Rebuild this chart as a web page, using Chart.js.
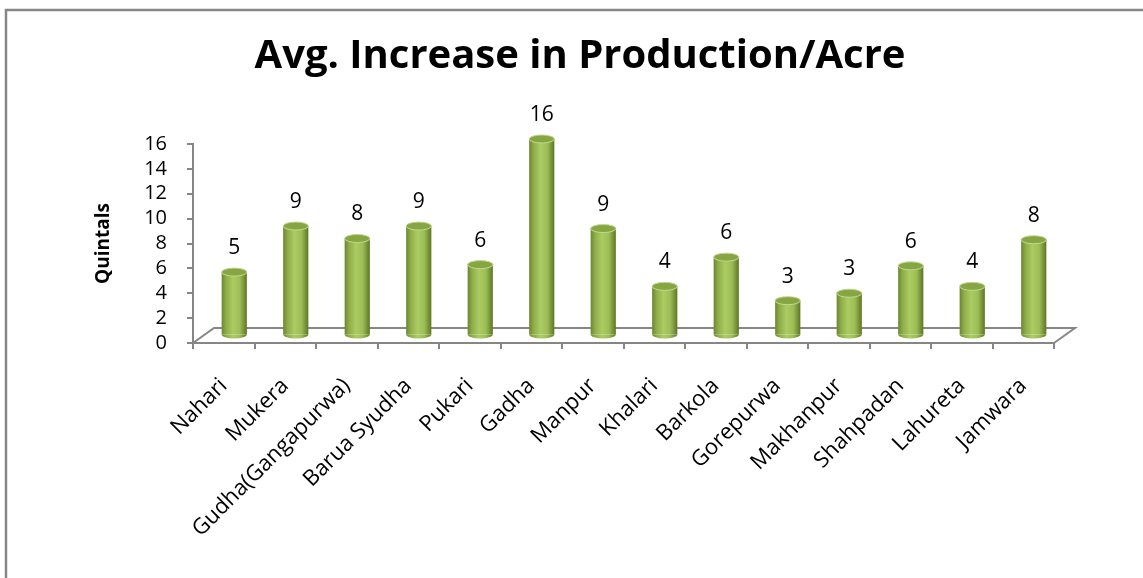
<!DOCTYPE html>
<html>
<head>
<meta charset="utf-8">
<script src="https://cdn.jsdelivr.net/npm/chart.js@4"></script>
<style>
  html, body { margin: 0; padding: 0; background: #fff; }
  #wrap { width: 1143px; height: 578px; }
</style>
</head>
<body>
<div id="wrap"><canvas id="chart" width="1143" height="578"></canvas></div>
<script>
// villages and average increase (quintals per acre)
const villages = ["Nahari", "Mukera", "Gudha(Gangapurwa)", "Barua Syudha", "Pukari", "Gadha", "Manpur",
  "Khalari", "Barkola", "Gorepurwa", "Makhanpur", "Shahpadan", "Lahureta", "Jamwara"];
const increase = [5.1, 8.8, 7.8, 8.8, 5.7, 15.8, 8.6, 3.95, 6.3, 2.8, 3.4, 5.6, 3.95, 7.7];
const yTicks = [0, 2, 4, 6, 8, 10, 12, 14, 16];

const AXIS = "#868686";
const FONT = "'Open Sans', 'Noto Sans', sans-serif";
// fake 3D depth of the floor (px)
const DEPTH_X = 21, DEPTH_Y = -15;

// cylinder shading across one bar
function cylinderFill(ctx) {
  const chart = ctx.chart;
  const xs = chart.scales && chart.scales.x;
  if (!xs || ctx.dataIndex == null) return "#9bbb59";
  const cx = xs.getPixelForValue(ctx.dataIndex);
  if (!isFinite(cx)) return "#9bbb59";
  const w = 25;
  const g = chart.ctx.createLinearGradient(cx - w / 2, 0, cx + w / 2, 0);
  g.addColorStop(0, "#6b8830");
  g.addColorStop(0.18, "#8fae4a");
  g.addColorStop(0.45, "#abcb63");
  g.addColorStop(0.72, "#9dbe56");
  g.addColorStop(1, "#5d7826");
  return g;
}

// grey frame around the whole chart
const framePlugin = {
  id: "frame",
  beforeDraw(chart) {
    const c = chart.ctx;
    c.save();
    c.fillStyle = "#fff";
    c.fillRect(0, 0, chart.width, chart.height);
    c.strokeStyle = AXIS;
    c.lineWidth = 2.5;
    c.strokeRect(6, 10, chart.width + 20, chart.height + 20);
    c.restore();
  }
};

// floor of the 3D plot, then shift the bars to mid depth
const floorPlugin = {
  id: "floor",
  beforeDatasetsDraw(chart) {
    const c = chart.ctx;
    const xs = chart.scales.x, ys = chart.scales.y;
    const y0 = ys.getPixelForValue(0);
    c.save();
    c.strokeStyle = AXIS;
    c.lineWidth = 2;
    c.beginPath();
    c.moveTo(xs.left, y0);
    c.lineTo(xs.left + DEPTH_X, y0 + DEPTH_Y);
    c.lineTo(xs.right + DEPTH_X, y0 + DEPTH_Y);
    c.lineTo(xs.right, y0);
    c.stroke();
    c.restore();
    c.save();
    c.translate(DEPTH_X / 2, DEPTH_Y / 2);
  },
  afterDatasetsDraw(chart) {
    const c = chart.ctx;
    const meta = chart.getDatasetMeta(0);
    meta.data.forEach((bar, i) => {
      const w = bar.width, rx = w / 2, ry = 4;
      // rounded bottom
      c.save();
      c.beginPath();
      c.ellipse(bar.x, bar.base, rx, ry, 0, 0, Math.PI);
      c.fillStyle = cylinderFill({ chart, dataIndex: i });
      c.fill();
      c.restore();
      // top cap
      c.save();
      c.beginPath();
      c.ellipse(bar.x, bar.y, rx, ry, 0, 0, Math.PI * 2);
      c.fillStyle = "#86a644";
      c.fill();
      c.lineWidth = 1;
      c.strokeStyle = "#c3d98f";
      c.stroke();
      c.restore();
      // value label
      c.save();
      c.fillStyle = "#000";
      c.font = "21px " + FONT;
      c.textAlign = "center";
      c.textBaseline = "middle";
      c.fillText(String(Math.round(increase[i])), bar.x, bar.y - 24);
      c.restore();
    });
    c.restore();
  }
};

new Chart(document.getElementById("chart"), {
  type: "bar",
  data: {
    labels: villages,
    datasets: [{
      data: increase,
      backgroundColor: cylinderFill,
      borderWidth: 0,
      categoryPercentage: 1,
      barPercentage: 0.41
    }]
  },
  options: {
    responsive: false,
    animation: false,
    layout: { padding: { left: 17, right: 0, top: 0, bottom: 0 } },
    plugins: {
      legend: { display: false },
      tooltip: { enabled: false },
      title: {
        display: true,
        text: "Avg. Increase in Production/Acre",
        color: "#000",
        font: { family: FONT, size: 40, weight: "bold" },
        padding: { top: 33, bottom: 63 }
      }
    },
    scales: {
      x: {
        offset: true,
        grid: { display: true, drawOnChartArea: false, offset: true, color: AXIS, lineWidth: 2, tickLength: 6 },
        border: { display: true, color: AXIS, width: 2 },
        ticks: {
          color: "#000",
          font: { family: FONT, size: 22 },
          minRotation: 45,
          maxRotation: 45,
          autoSkip: false,
          padding: 24
        },
        afterFit(scale) { scale.height = 235; }
      },
      y: {
        min: 0,
        max: 16,
        afterBuildTicks(scale) { scale.ticks = yTicks.map(v => ({ value: v })); },
        grid: { display: true, drawOnChartArea: false, color: AXIS, lineWidth: 2, tickLength: 6 },
        border: { display: true, color: AXIS, width: 2 },
        ticks: { color: "#000", font: { family: FONT, size: 20 }, padding: 20, autoSkip: false },
        title: {
          display: true,
          text: "Quintals",
          color: "#000",
          font: { family: FONT, size: 19, weight: "bold" },
          padding: { top: 75, bottom: 0 }
        },
        afterFit(scale) { scale.width = 176; }
      },
      // empty right-hand box that keeps the plot clear of the right edge
      yRight: {
        position: "right",
        display: true,
        grid: { display: false },
        border: { display: false },
        ticks: { display: false },
        afterFit(scale) { scale.width = 89; }
      }
    }
  },
  plugins: [framePlugin, floorPlugin]
});
</script>
</body>
</html>
